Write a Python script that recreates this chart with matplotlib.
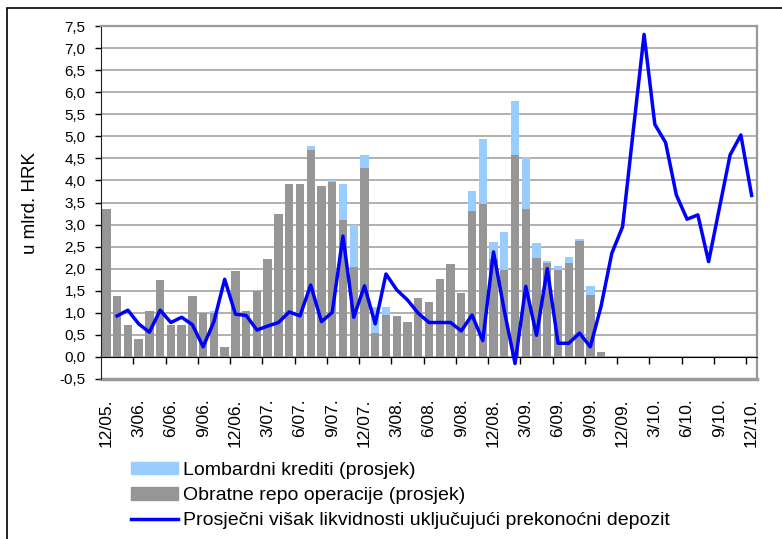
import matplotlib
matplotlib.use('Agg')
import matplotlib.pyplot as plt
import numpy as np
from matplotlib.patches import Rectangle, Patch
from matplotlib.lines import Line2D

plt.rcParams['font.family'] = ['Liberation Sans', 'DejaVu Sans']

# monthly categories 12/05 .. 12/10
months = []
for yy in range(5, 11):
    for mm in range(1, 13):
        if (yy == 5 and mm < 12):
            continue
        months.append(f"{mm}/{yy:02d}.")

tick_labels = ["12/05.", "3/06.", "6/06.", "9/06.", "12/06.", "3/07.", "6/07.", "9/07.",
               "12/07.", "3/08.", "6/08.", "9/08.", "12/08.", "3/09.", "6/09.", "9/09.",
               "12/09.", "3/10.", "6/10.", "9/10.", "12/10."]

# Obratne repo operacije (prosjek)
repo = [3.35, 1.38, 0.73, 0.41, 1.04, 1.74, 0.73, 0.73, 1.38, 1.00,
        1.00, 0.23, 1.95, 1.04, 1.50, 2.22, 3.24, 3.92, 3.92, 4.69,
        3.87, 3.97, 3.10, 2.04, 4.28, 0.54, 0.95, 0.93, 0.79, 1.34,
        1.25, 1.77, 2.11, 1.45, 3.31, 3.47, 2.22, 1.97, 4.58, 3.35,
        2.24, 2.13, 1.97, 2.13, 2.63, 1.40, 0.11, 0, 0, 0,
        0, 0, 0, 0, 0, 0, 0, 0, 0, 0, 0]

# Lombardni krediti (prosjek)
lombard = [0, 0, 0, 0, 0, 0, 0, 0, 0, 0,
           0.04, 0, 0, 0, 0, 0, 0, 0, 0, 0.09,
           0, 0.04, 0.82, 0.94, 0.30, 0.59, 0.18, 0, 0, 0,
           0, 0, 0, 0, 0.45, 1.47, 0.38, 0.86, 1.22, 1.18,
           0.34, 0.05, 0.09, 0.14, 0.05, 0.21, 0, 0, 0, 0,
           0, 0, 0, 0, 0, 0, 0, 0, 0, 0, 0]

# Prosječni višak likvidnosti uključujući prekonoćni depozit
excess = [np.nan, 0.93, 1.06, 0.75, 0.56, 1.06, 0.78, 0.90, 0.73, 0.23,
          0.80, 1.76, 0.97, 0.94, 0.61, 0.70, 0.78, 1.02, 0.93, 1.63,
          0.80, 1.01, 2.74, 0.90, 1.61, 0.75, 1.88, 1.52, 1.29, 0.99,
          0.78, 0.78, 0.78, 0.59, 0.95, 0.37, 2.38, 1.05, -0.15, 1.60,
          0.49, 2.00, 0.31, 0.31, 0.54, 0.23, 1.15, 2.35, 2.95, 5.14,
          7.31, 5.27, 4.86, 3.67, 3.12, 3.22, 2.16, 3.37, 4.58, 5.03, 3.66]

W, H = 782, 539
fig = plt.figure(figsize=(W / 100, H / 100), dpi=100)
ax = fig.add_axes([101 / W, 1 - 379 / H, (757 - 101) / W, (379 - 26) / H])

x = np.arange(len(months))
ax.bar(x, repo, width=0.78, color='#969696', zorder=2)
ax.bar(x, lombard, width=0.78, bottom=repo, color='#99ccff', zorder=2)
ax.plot(x, excess, color='#0000ff', lw=2.5, zorder=3)

ax.set_xlim(-0.5, len(months) - 0.5)
ax.set_ylim(-0.5, 7.5)

yt = np.arange(-0.5, 7.51, 0.5)
ax.set_yticks(yt)
ax.set_yticklabels([f"{v:.1f}".replace('.', ',') for v in yt], fontsize=11)
ax.yaxis.grid(True, color='#b0b0b0', lw=1.4, zorder=0)
ax.set_axisbelow(True)
ax.tick_params(axis='y', direction='out', length=4, width=1, pad=7, colors='black')

# x axis at zero
ax.spines['bottom'].set_position(('data', 0))
ax.spines['bottom'].set_color('black')
ax.spines['left'].set_color('#202020')
ax.spines['right'].set_color('#999999')
ax.spines['top'].set_color('#999999')
for s in ['right', 'top']:
    ax.spines[s].set_linewidth(1.6)
ax.axhline(-0.5, color='#999999', lw=2.5, clip_on=False, zorder=1)

ax.set_xticks(np.arange(2.5, len(months) - 0.5, 3))
ax.set_xticklabels([])
ax.tick_params(axis='x', which='major', direction='out', length=5, width=1)
ax.set_xticks(np.arange(0, len(months), 3), minor=True)
ax.set_xticklabels(tick_labels, minor=True, rotation=90, fontsize=12.5, va='top', ha='center')
ax.tick_params(axis='x', which='minor', length=0, pad=30)

ax.set_ylabel('u mlrd. HRK', fontsize=13.5)
ax.yaxis.set_label_coords(-0.094, 0.5)

handles = [Patch(color='#99ccff'), Patch(color='#969696'),
           Line2D([], [], color='#0000ff', lw=2.5)]
labels = ['Lombardni krediti (prosjek)', 'Obratne repo operacije (prosjek)',
          'Prosječni višak likvidnosti uključujući prekonoćni depozit']
fig.legend(handles, labels, loc='upper left', bbox_to_anchor=(131 / W, 1 - 462 / H),
           frameon=False, fontsize=14, handlelength=2.4, handleheight=0.6,
           handletextpad=0.25, labelspacing=0.42, borderpad=0, borderaxespad=0)

fig.add_artist(Rectangle((7 / W, -0.1), 2, 1.1 - 8 / H, transform=fig.transFigure,
                         fill=False, edgecolor='black', lw=1.2))

fig.savefig('out.png', dpi=100)
